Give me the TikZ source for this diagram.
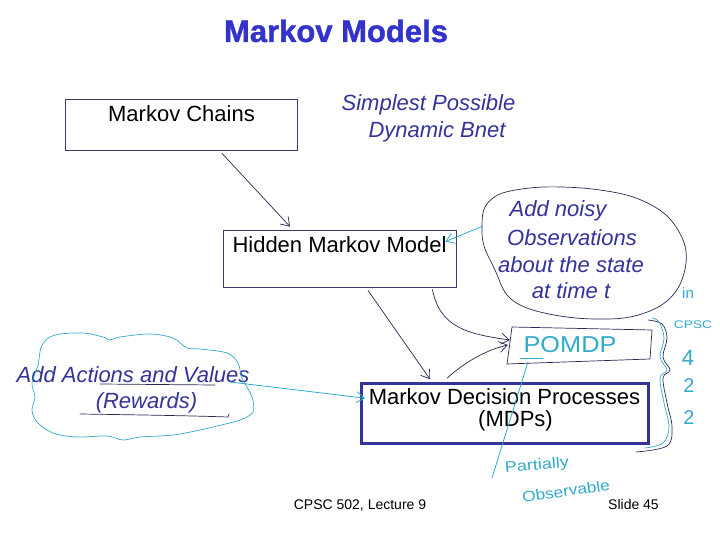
\documentclass[tikz,border=0pt]{standalone}
\usepackage{fontspec}
\setmainfont{Liberation Sans}
\newfontfamily\titlefont[BoldFeatures={FakeBold=1.3}]{Liberation Sans}
\usetikzlibrary{arrows.meta,calc}
\definecolor{navy}{RGB}{51,51,153}
\definecolor{titleblue}{RGB}{51,51,204}
\definecolor{boxline}{RGB}{60,60,110}
\definecolor{inkline}{RGB}{40,40,85}
\definecolor{pen}{RGB}{51,170,204}
\begin{document}
\begin{tikzpicture}[x=1pt,y=-1pt,
  txt/.style={anchor=base,inner sep=0pt,font=\fontsize{22}{26}\selectfont},
  itxt/.style={anchor=base,inner sep=0pt,text=navy,font=\fontsize{22}{26}\selectfont\itshape},
  hand/.style={inner sep=0pt,text=pen},
  box/.style={draw=boxline,line width=0.8pt,inner sep=0pt},
  ghost/.style={inner sep=0pt},
  arr/.style={draw=inkline,line width=0.7pt,-{Straight Barb[length=8pt,width=11pt]}},
  penarr/.style={draw=pen,line width=0.8pt,-{Straight Barb[length=8pt,width=11pt]}},
  penline/.style={draw=pen,line width=0.8pt,line cap=round},
  inkpen/.style={draw=inkline,line width=0.7pt,line cap=round}]
\useasboundingbox[fill=white] (0,0) rectangle (720,540);

% title
\node[anchor=base,inner sep=0pt,text=titleblue,font=\titlefont\fontsize{31}{36}\selectfont\bfseries] (title) at (336,42) {Markov Models};

% boxes
\node[box,minimum width=232pt,minimum height=51pt] (mc) at (181,124.5) {};
\node[txt] (mctext) at (181.5,122) {Markov Chains};
\node[box,minimum width=233pt,minimum height=57pt] (hmm) at (339.5,258.5) {};
\node[txt] (hmmtext) at (339.5,252) {Hidden Markov Model};
\node[draw=navy,line width=2.6pt,inner sep=0pt,minimum width=287pt,minimum height=60pt] (mdp) at (505,413.5) {};
\node[txt] (mdp1) at (504.5,404) {Markov Decision Processes};
\node[txt] (mdp2) at (515.5,426) {(MDPs)};

% italic notes
\node[itxt] (sp1) at (428.5,111) {Simplest Possible};
\node[itxt] (sp2) at (437,138) {Dynamic Bnet};
\node[itxt] (bub1) at (558,217) {Add noisy};
\node[itxt] (bub2) at (572,245) {Observations};
\node[itxt] (bub3) at (571,272) {about the state};
\node[itxt] (bub4) at (571,298) {at time t};
\node[itxt] (aa1) at (133,382) {Add Actions and Values};
\node[itxt] (aa2) at (146.5,408) {(Rewards)};

% speech bubble
\draw[inkline,line width=0.7pt] plot[smooth cycle,tension=0.6] coordinates
  {(485,207) (500,194) (530,188) (562,187) (600,190) (636,198) (666,215) (683,240)
   (686,263) (678,288) (660,306) (630,317) (595,319) (560,316) (527,308) (507,295)
   (495,270) (484,246) (482,226)};
\coordinate (bubtail) at (483,226);

% cloud
\draw[pen,line width=0.7pt] plot[smooth cycle,tension=0.55] coordinates
  {(42,345) (55,335) (83,333) (103,337) (110,340) (120,337) (150,334) (173,338)
   (187,348) (200,349) (227,353) (238,363) (242,378) (252,397) (253,412) (240,420)
   (217,426) (200,430) (173,435) (140,437) (123,440) (107,436) (77,437) (53,433)
   (37,422) (32,410) (35,397) (32,383) (38,365)};
\coordinate (cloudtail) at (230,382);
\draw[inkpen] (100,384) -- (215,385);
\draw[inkpen] (80,414) .. controls (150,415) and (200,416) .. (228,417) -- (229,414);

% POMDP hand-drawn box
\node[ghost,minimum width=140pt,minimum height=36pt] (pomdp) at (579,345) {};
\draw[inkpen] (512,327) -- (652,330) -- (650,359) -- (507,364) -- cycle;
\node[hand,font=\fontsize{23}{26}\selectfont] (pomdptext) at (570,345) {\scalebox{1.1}[1]{POMDP}};
\draw[penline] (520,358) -- (543,358);

% connectors
\draw[arr] ($(mc.south)+(41,3)$) -- ($(hmm.north)+(-49.5,-3)$);
\draw[arr] ($(hmm.south)+(28.5,3)$) -- ($(mdp.north)+(-75,-3)$);
\draw[arr] ($(hmm.south east)+(-24,2)$) .. controls (440,328) and (468,334) .. ($(pomdp.west)+(1,-5)$);
\draw[arr] ($(mdp.north)+(-58,-4)$) .. controls (465,362) and (486,350) .. ($(pomdp.west)+(-1,0)$);
\draw[penarr] (bubtail) -- ($(hmm.north east)+(-11,12)$);
\draw[penarr] (cloudtail) -- ($(mdp.north west)+(5,16)$);
\coordinate (pounder) at (528,362);
\draw[penline] (pounder) -- (492,478);

% brace
\draw[inkline,line width=0.7pt] plot[smooth,tension=0.6] coordinates
  {(648,320) (662,324) (667,338) (663,357) (670,370) (663,378) (667,403) (672,427) (667,446) (636,452)};
\draw[pen,line width=0.7pt] plot[smooth,tension=0.6] coordinates
  {(652,318) (659,322) (664,338) (660,357) (667,370) (660,378) (664,403) (669,427) (663,443) (645,448)};

% handwritten notes
\node[hand,font=\fontsize{15}{16}\selectfont] (hin) at (688,293) {in};
\node[hand,font=\fontsize{11}{12}\selectfont] (hcpsc) at (693,325) {\scalebox{1.25}[1]{CPSC}};
\node[hand,font=\fontsize{22}{24}\selectfont] (h4) at (688,358) {4};
\node[hand,font=\fontsize{20}{24}\selectfont] (h2a) at (689,386) {2};
\node[hand,font=\fontsize{20}{24}\selectfont] (h2b) at (689,418) {2};
\node[hand,font=\fontsize{15}{18}\selectfont,rotate=5] (part) at (537,466) {\scalebox{1.2}[1]{Partially}};
\node[hand,font=\fontsize{15}{18}\selectfont,rotate=8] (obs) at (566,491) {\scalebox{1.15}[1]{Observable}};

% footer
\node[anchor=base,inner sep=0pt,font=\fontsize{14}{16}\selectfont] (foot1) at (360,509) {CPSC 502, Lecture 9};
\node[anchor=base,inner sep=0pt,font=\fontsize{14}{16}\selectfont] (foot2) at (633.5,509) {Slide 45};
\end{tikzpicture}
\end{document}
